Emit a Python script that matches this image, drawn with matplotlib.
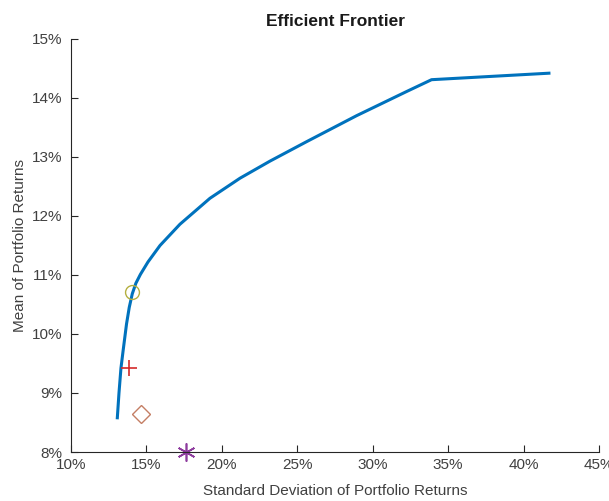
import matplotlib
matplotlib.use("Agg")
import matplotlib.pyplot as plt
from matplotlib.ticker import FuncFormatter

plt.rcParams['font.family'] = ['Liberation Sans', 'DejaVu Sans']

# efficient frontier (std dev %, mean %)
risk = [13.07, 13.18, 13.31, 13.46, 13.68, 13.86, 14.06, 14.3, 14.6, 15.1, 15.9, 17.22, 19.21,
        21.2, 23.19, 25.62, 28.93, 32.25, 33.9, 41.68]
ret = [8.58, 9.0, 9.42, 9.73, 10.17, 10.45, 10.68, 10.86, 11.01, 11.22, 11.5, 11.86, 12.3,
       12.64, 12.93, 13.26, 13.7, 14.11, 14.31, 14.42]

# individual portfolios
pts_x = [14.06, 13.84, 14.62, 17.62]
pts_y = [10.71, 9.42, 8.64, 8.0]
pts_color = ['#B5B040', '#D42A2A', '#C47E64', '#8E3C9E']

fig = plt.figure(figsize=(6.09, 5.01), dpi=100)
ax = fig.add_axes([0.1166, 0.0978, 0.867, 0.8244])

ax.plot(risk, ret, color='#0072BD', lw=2.2, solid_joinstyle='round')
ax.plot(pts_x[0], pts_y[0], 'o', ms=10, mfc='none', mec=pts_color[0], mew=1)
ax.plot(pts_x[1], pts_y[1], '+', ms=12, color=pts_color[1], mew=1.2)
ax.plot(pts_x[2], pts_y[2], 'D', ms=9, mfc='none', mec=pts_color[2], mew=1)
ax.plot(pts_x[3], pts_y[3], marker=(6, 2, 0), ms=13, color=pts_color[3], mew=1.2, clip_on=False)

ax.set_xlim(10, 45)
ax.set_ylim(8, 15)
ax.set_xticks(range(10, 46, 5))
ax.set_yticks(range(8, 16))
pct = FuncFormatter(lambda v, p: f"{v:g}%")
ax.xaxis.set_major_formatter(pct)
ax.yaxis.set_major_formatter(pct)

for s in ['top', 'right']:
    ax.spines[s].set_visible(False)
for s in ['left', 'bottom']:
    ax.spines[s].set_color('#262626')
    ax.spines[s].set_linewidth(0.8)
ax.tick_params(direction='in', length=5, width=0.8, colors='#262626', labelsize=11, labelcolor='#404040')
ax.tick_params(axis='y', pad=6)
ax.tick_params(axis='x', pad=4)

ax.set_xlabel("Standard Deviation of Portfolio Returns", fontsize=11, color='#404040', labelpad=9)
ax.set_ylabel("Mean of Portfolio Returns", fontsize=11, color='#404040', labelpad=4)
ax.set_title("Efficient Frontier", fontsize=12.5, fontweight='bold', color='#1a1a1a', pad=9)

fig.savefig("out.png", dpi=100)
